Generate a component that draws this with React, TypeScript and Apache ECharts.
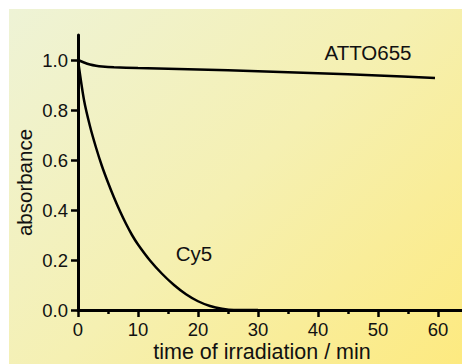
import React, { useEffect, useRef } from "react";
import * as echarts from "echarts";

// time of irradiation (min) and absorbance values
const attoTimes = [0, 1, 2, 3, 4, 6, 10, 20, 30, 40, 50, 59.5];
const attoValues = [1.0, 0.99, 0.982, 0.977, 0.974, 0.971, 0.968, 0.962, 0.955, 0.947, 0.938, 0.928];

const cy5Times = [0, 1, 2, 3, 4, 5, 6, 7, 8, 9, 10, 12, 14, 16, 18, 20, 22, 24, 26, 28, 30];
const cy5Values = [1.0, 0.84, 0.735, 0.65, 0.575, 0.51, 0.45, 0.395, 0.345, 0.3, 0.262, 0.198, 0.145, 0.1, 0.063, 0.035, 0.016, 0.005, 0.0, 0.0, 0.0];

const xMajorTicks = [0, 10, 20, 30, 40, 50, 60];
const xMinorTicks = [5, 15, 25, 35, 45, 55];
const yTicks = [0, 0.2, 0.4, 0.6, 0.8, 1.0];

const seriesNames = ["ATTO655", "Cy5"];
const xTitle = "time of irradiation / min";
const yTitle = "absorbance";

const FONT = "'Liberation Sans', Arial, Helvetica, sans-serif";

export default function App() {
  const ref = useRef<HTMLDivElement>(null);
  useEffect(() => {
    if (!ref.current) return;
    const chart = echarts.init(ref.current, undefined, { renderer: "svg" });
    const pair = (ts: number[], vs: number[]) => ts.map((t, i) => [t, vs[i]]);
    const axisColor = "#000";
    chart.setOption({
      animation: false,
      backgroundColor: "transparent",
      textStyle: { fontFamily: FONT },
      grid: { left: 69, right: 0, top: 26, bottom: 54, containLabel: false },
      xAxis: [
        {
          type: "value",
          min: 0,
          max: 64,
          position: "bottom",
          axisLine: { show: true, onZero: false, lineStyle: { color: axisColor, width: 3 } },
          axisTick: { show: true, customValues: xMajorTicks, length: 7, lineStyle: { color: axisColor, width: 2.5 } },
          axisLabel: { show: true, customValues: xMajorTicks, fontSize: 18.5, color: "#111", margin: 10, fontFamily: FONT },
          splitLine: { show: false },
        },
        {
          type: "value",
          min: 0,
          max: 64,
          position: "bottom",
          axisLine: { show: false, onZero: false },
          axisTick: { show: true, customValues: xMinorTicks, length: 4, lineStyle: { color: axisColor, width: 2.5 } },
          axisLabel: { show: false },
          splitLine: { show: false },
        },
      ],
      yAxis: {
        type: "value",
        min: 0,
        max: 1.1,
        axisLine: { show: true, onZero: false, lineStyle: { color: axisColor, width: 3 } },
        axisTick: { show: true, customValues: yTicks, length: 7, lineStyle: { color: axisColor, width: 2.5 } },
        axisLabel: {
          show: true,
          customValues: yTicks,
          fontSize: 18.5,
          color: "#111",
          margin: 10,
          fontFamily: FONT,
          formatter: (v: number) => v.toFixed(1),
        },
        splitLine: { show: false },
      },
      series: [
        {
          name: seriesNames[0],
          type: "line",
          data: pair(attoTimes, attoValues),
          showSymbol: false,
          smooth: 0.3,
          lineStyle: { color: "#000", width: 2.5 },
          clip: false,
        },
        {
          name: seriesNames[1],
          type: "line",
          data: pair(cy5Times, cy5Values),
          showSymbol: false,
          smooth: 0.3,
          lineStyle: { color: "#000", width: 2.5 },
          clip: false,
        },
      ],
      graphic: [
        {
          type: "text",
          x: 359,
          y: 43.5,
          style: { text: seriesNames[0], fontSize: 20.5, fill: "#111", fontFamily: FONT, align: "center", verticalAlign: "middle" },
        },
        {
          type: "text",
          x: 185,
          y: 244,
          style: { text: seriesNames[1], fontSize: 20.5, fill: "#111", fontFamily: FONT, align: "center", verticalAlign: "middle" },
        },
        {
          type: "text",
          x: 253,
          y: 343,
          style: { text: xTitle, fontSize: 21.5, fill: "#111", fontFamily: FONT, align: "center", verticalAlign: "middle" },
        },
        {
          type: "text",
          x: 15,
          y: 173.5,
          rotation: Math.PI / 2,
          style: { text: yTitle, fontSize: 20.5, fill: "#111", fontFamily: FONT, align: "center", verticalAlign: "middle" },
        },
      ],
    });
    return () => chart.dispose();
  }, []);
  return (
    <div
      style={{
        position: "absolute",
        left: 9,
        top: 9,
        width: 453,
        height: 355,
        background: "linear-gradient(135deg, #eef3d6 0%, #f5f0b2 50%, #fdea80 100%)",
      }}
    >
      <div ref={ref} style={{ width: 453, height: 355 }} />
    </div>
  );
}
